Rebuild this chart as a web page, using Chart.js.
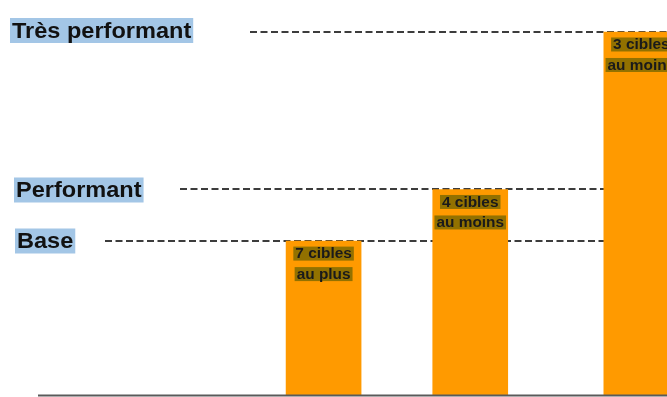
<!DOCTYPE html>
<html>
<head>
<meta charset="utf-8">
<script src="https://cdn.jsdelivr.net/npm/chart.js@4.4.1/dist/chart.umd.min.js"></script>
<style>
  html, body { margin: 0; padding: 0; background: #fff; overflow: hidden; }
  #wrap { width: 700px; height: 397px; }
</style>
</head>
<body>
<div id="wrap"><canvas id="c" width="700" height="397"></canvas></div>
<script>
// levels (reference lines) and bars
const levelNames = ['Base', 'Performant', 'Très performant'];
const levelValues = [3, 4, 7.05];
const barValues = [3, 4, 7.05];
const barLabels = [['7 cibles', 'au plus'], ['4 cibles', 'au moins'], ['3 cibles', 'au moins']];

// layout: bars sit on slots of a wide category axis (uneven gaps in the original)
const slotCount = 26;
const barSlots = [11, 17, 24];

const slots = new Array(slotCount).fill('');
const series = new Array(slotCount).fill(null);
barSlots.forEach((s, i) => { slots[s] = barLabels[i][0]; series[s] = barValues[i]; });
const textBySlot = {};
barSlots.forEach((s, i) => { textBySlot[s] = barLabels[i]; });

// text slightly stretched horizontally, as in the original picture
function stretchedText(ctx, text, x, y, sx) {
  ctx.save();
  ctx.translate(x, y);
  ctx.scale(sx, 1);
  ctx.fillText(text, 0, 0);
  ctx.restore();
}

const levelLines = {
  id: 'levelLines',
  beforeDatasetsDraw(chart, args, opts) {
    const ctx = chart.ctx;
    const y = chart.scales.y;
    ctx.save();
    levelValues.forEach((v, i) => {
      const py = Math.round(y.getPixelForValue(v));
      ctx.strokeStyle = '#3c3c3c';
      ctx.lineWidth = 1.8;
      ctx.setLineDash([7, 3.5]);
      ctx.beginPath();
      ctx.moveTo(opts.starts[i], py);
      ctx.lineTo(chart.width, py);
      ctx.stroke();

      // label with highlight box
      ctx.setLineDash([]);
      ctx.font = 'bold 22px "Liberation Sans", Arial, sans-serif';
      const w = ctx.measureText(levelNames[i]).width * 1.07;
      const bx = opts.labelX[i];
      const cy = py + opts.labelDy[i];
      ctx.fillStyle = '#a3c6e6';
      ctx.fillRect(bx, cy - 12.5, w + 4, 25);
      ctx.fillStyle = '#111';
      ctx.textBaseline = 'middle';
      ctx.textAlign = 'left';
      stretchedText(ctx, levelNames[i], bx + 2, cy + 1, 1.07);
    });
    ctx.restore();
  },
  afterDatasetsDraw(chart) {
    const ctx = chart.ctx;
    const meta = chart.getDatasetMeta(0);
    ctx.save();
    // baseline
    ctx.strokeStyle = '#5a5a5a';
    ctx.lineWidth = 2;
    ctx.beginPath();
    ctx.moveTo(38, chart.chartArea.bottom - 0.5);
    ctx.lineTo(chart.width, chart.chartArea.bottom - 0.5);
    ctx.stroke();

    // text inside bars
    ctx.font = 'bold 14px "Liberation Sans", Arial, sans-serif';
    ctx.textAlign = 'center';
    ctx.textBaseline = 'middle';
    meta.data.forEach((bar, idx) => {
      const lines = textBySlot[idx];
      if (!lines) return;
      lines.forEach((t, j) => {
        const cy = bar.y + 12.5 + j * 20.5;
        const w = ctx.measureText(t).width * 1.1;
        ctx.fillStyle = '#927100';
        ctx.fillRect(bar.x - w / 2 - 2, cy - 7, w + 4, 14);
        ctx.fillStyle = '#1a1a1a';
        stretchedText(ctx, t, bar.x, cy + 1, 1.1);
      });
    });
    ctx.restore();
  }
};

new Chart(document.getElementById('c'), {
  type: 'bar',
  data: {
    labels: slots,
    datasets: [{
      data: series,
      backgroundColor: '#ff9a00',
      borderWidth: 0,
      barThickness: 75
    }]
  },
  options: {
    responsive: false,
    animation: false,
    layout: { padding: { left: 42.5, right: 22, top: 1, bottom: 1 } },
    scales: {
      x: { display: false },
      y: { display: false, min: 0, max: 7.65 }
    },
    plugins: {
      legend: { display: false },
      tooltip: { enabled: false },
      levelLines: {
        starts: [105, 180, 250],
        labelX: [15, 14, 10],
        labelDy: [0, 1, -1.5]
      }
    }
  },
  plugins: [levelLines]
});
</script>
</body>
</html>
